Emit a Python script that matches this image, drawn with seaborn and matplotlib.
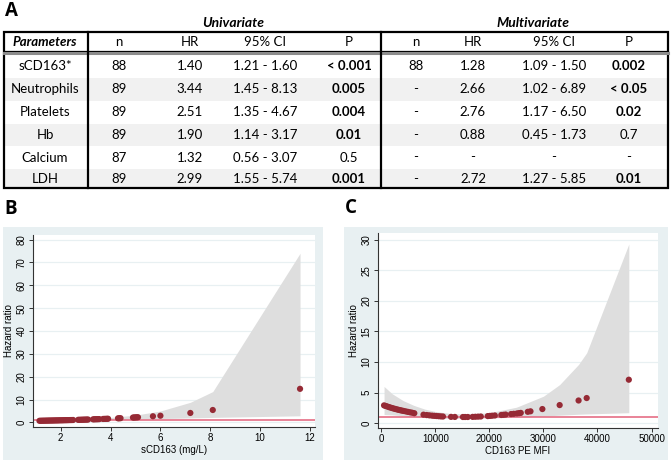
import pandas as pd
import seaborn as sns
import matplotlib.pyplot as plt
from matplotlib.patches import Rectangle

# ---- table data (panel A) ----
params = ["sCD163*", "Neutrophils", "Platelets", "Hb", "Calcium", "LDH"]
uni_n = ["88", "89", "89", "89", "87", "89"]
uni_hr = ["1.40", "3.44", "2.51", "1.90", "1.32", "2.99"]
uni_ci = ["1.21 - 1.60", "1.45 - 8.13", "1.35 - 4.67", "1.14 - 3.17", "0.56 - 3.07", "1.55 - 5.74"]
uni_p = ["< 0.001", "0.005", "0.004", "0.01", "0.5", "0.001"]
uni_p_bold = [True, True, True, True, False, True]
multi_n = ["88", "-", "-", "-", "-", "-"]
multi_hr = ["1.28", "2.66", "2.76", "0.88", "-", "2.72"]
multi_ci = ["1.09 - 1.50", "1.02 - 6.89", "1.17 - 6.50", "0.45 - 1.73", "-", "1.27 - 5.85"]
multi_p = ["0.002", "< 0.05", "0.02", "0.7", "-", "0.01"]
multi_p_bold = [True, True, True, False, False, True]
headers = ["Parameters", "n", "HR", "95% CI", "P", "n", "HR", "95% CI", "P"]

# ---- panel B: sCD163 (mg/L) vs hazard ratio ----
b_x = [1.15, 1.2, 1.25, 1.3, 1.35, 1.4, 1.45, 1.5, 1.55, 1.6, 1.65, 1.7, 1.75, 1.8,
       1.85, 1.9, 1.95, 2.0, 2.05, 2.1, 2.15, 2.2, 2.25, 2.3, 2.35, 2.4, 2.45, 2.5,
       2.7, 2.75, 2.8, 2.85, 2.9, 2.95, 3.0, 3.05, 3.1, 3.3, 3.35, 3.4, 3.45, 3.5,
       3.55, 3.7, 3.75, 3.8, 3.85, 3.9, 4.3, 4.35, 4.4, 4.9, 4.95, 5.0, 5.05, 5.1,
       5.7, 6.0, 7.2, 8.1, 11.6]
b_hr = [0.72, 0.73, 0.74, 0.76, 0.77, 0.78, 0.79, 0.81, 0.82, 0.83, 0.84, 0.85, 0.87, 0.88,
        0.89, 0.90, 0.92, 0.93, 0.94, 0.96, 0.97, 0.98, 1.00, 1.01, 1.03, 1.04, 1.05, 1.07,
        1.13, 1.15, 1.17, 1.18, 1.20, 1.22, 1.24, 1.25, 1.27, 1.35, 1.37, 1.39, 1.41, 1.43,
        1.45, 1.52, 1.54, 1.56, 1.59, 1.61, 1.80, 1.83, 1.86, 2.14, 2.17, 2.20, 2.24, 2.27,
        2.70, 2.94, 4.14, 5.44, 14.7]
b_band_x = [1.15, 2.0, 3.0, 4.0, 5.0, 6.0, 7.2, 8.1, 11.6]
b_upper = [1.0, 1.2, 1.6, 2.2, 3.2, 5.0, 8.8, 13.5, 74.0]
b_lower = [0.5, 0.75, 1.0, 1.25, 1.5, 1.7, 1.95, 2.2, 2.9]

# ---- panel C: CD163 PE MFI vs hazard ratio ----
c_x = [500, 800, 1100, 1400, 1700, 2000, 2300, 2600, 2900, 3200, 3500, 3800, 4100,
       4500, 4900, 5300, 5700, 6100, 7800, 8400, 8900, 9400, 9800, 10200, 10600,
       11000, 11400, 12900, 13600, 15100, 15500, 16000, 16900, 17400, 17900, 18400,
       19700, 20100, 20500, 21000, 22200, 22600, 23000, 24000, 24500, 25100, 25500,
       25800, 27100, 27600, 29800, 33000, 36500, 38000, 45800]
c_hr = [2.90, 2.80, 2.72, 2.62, 2.54, 2.46, 2.38, 2.31, 2.24, 2.17, 2.11, 2.05, 1.99,
        1.92, 1.84, 1.77, 1.70, 1.62, 1.38, 1.32, 1.27, 1.22, 1.19, 1.16, 1.13,
        1.10, 1.08, 1.02, 1.01, 1.00, 1.00, 1.00, 1.02, 1.04, 1.06, 1.08,
        1.15, 1.18, 1.21, 1.25, 1.33, 1.36, 1.40, 1.48, 1.52, 1.58, 1.63,
        1.67, 1.85, 1.93, 2.30, 2.95, 3.70, 4.10, 7.10]
c_band_x = [500, 2000, 4000, 6000, 8000, 10000, 13000, 16000, 20000, 25000, 30000,
            33000, 36500, 38000, 45800]
c_upper = [6.0, 4.8, 3.7, 2.9, 2.3, 1.9, 1.55, 1.5, 1.7, 2.6, 4.4, 6.3, 9.6, 11.5, 29.3]
c_lower = [1.4, 1.35, 1.2, 1.05, 0.9, 0.8, 0.75, 0.75, 0.85, 0.95, 1.15, 1.3, 1.45, 1.5, 1.7]

df_b = pd.DataFrame({"x": b_x, "hr": b_hr})
df_c = pd.DataFrame({"x": c_x, "hr": c_hr})

W, H = 672, 462
tab_font = ["Lato", "DejaVu Sans"]
plot_font = ["Liberation Sans", "DejaVu Sans"]
plt.rcParams["font.family"] = plot_font

fig = plt.figure(figsize=(W / 100, H / 100), dpi=100)
bg = fig.add_axes([0, 0, 1, 1])
bg.set_xlim(0, W)
bg.set_ylim(H, 0)
bg.axis("off")

# panel letters
for lab, x, y in [("A", 5, 11), ("B", 4, 209), ("C", 345, 208)]:
    bg.text(x, y, lab, fontsize=13.5, fontweight="bold", va="center", ha="left",
            family=["Open Sans", "DejaVu Sans"])

# ---- table ----
tfs = 9.5
bg.text(233, 23, "Univariate", fontsize=10, fontweight="bold", style="italic",
        ha="center", va="center", family=tab_font)
bg.text(533, 23, "Multivariate", fontsize=10, fontweight="bold", style="italic",
        ha="center", va="center", family=tab_font)

col_x = [45, 119, 190, 265, 349, 416, 473, 554, 629]
row_y = [66.5, 89, 112, 135, 157.5, 179]
row_edges = [54, 78, 100.5, 123.5, 146, 168.5, 188]

for i in range(len(params)):
    if i % 2 == 1:
        bg.add_patch(Rectangle((4, row_edges[i]), 664, row_edges[i + 1] - row_edges[i],
                               facecolor="#f1f1f1", edgecolor="none", zorder=0))

for j, h in enumerate(headers):
    bold = j == 0
    bg.text(col_x[j], 42, h, fontsize=tfs, ha="center", va="center", family=tab_font,
            fontweight="bold" if bold else "normal", style="italic" if bold else "normal")

for i in range(len(params)):
    cells = [params[i], uni_n[i], uni_hr[i], uni_ci[i], uni_p[i],
             multi_n[i], multi_hr[i], multi_ci[i], multi_p[i]]
    bolds = [False] * 4 + [uni_p_bold[i]] + [False] * 3 + [multi_p_bold[i]]
    for j, c in enumerate(cells):
        bg.text(col_x[j], row_y[i], c, fontsize=tfs, ha="center", va="center",
                family=tab_font, fontweight="bold" if bolds[j] else "normal")

bg.add_patch(Rectangle((4, 32), 664, 156, fill=False, edgecolor="black", lw=1.6, zorder=3))
bg.plot([4, 668], [51, 51], color="black", lw=0.9, zorder=3)
bg.plot([4, 668], [53, 53], color="#8c8c8c", lw=2.2, zorder=3)
for vx in [88, 381]:
    bg.plot([vx, vx], [32, 188], color="black", lw=1.6, zorder=3)

# ---- Stata-like graph backgrounds ----
panel_bg = "#e8f0f2"
bg.add_patch(Rectangle((3, 227), 320, 233, facecolor=panel_bg, edgecolor="none", zorder=0))
bg.add_patch(Rectangle((344, 227), 324, 233, facecolor=panel_bg, edgecolor="none", zorder=0))


def px_axes(left, top, right, bottom):
    return fig.add_axes([left / W, 1 - bottom / H, (right - left) / W, (bottom - top) / H])


def style_axes(ax, xlabel):
    ax.set_facecolor("white")
    for s in ["top", "right"]:
        ax.spines[s].set_visible(False)
    for s in ["left", "bottom"]:
        ax.spines[s].set_color("#333333")
        ax.spines[s].set_linewidth(0.8)
    ax.yaxis.grid(True, color="#e8f0f2", lw=0.9)
    ax.set_axisbelow(True)
    ax.tick_params(axis="both", labelsize=7, length=3, width=0.7, pad=1.5, color="#333333")
    ax.tick_params(axis="y", labelrotation=90)
    for t in ax.get_yticklabels():
        t.set_va("center")
    ax.set_xlabel(xlabel, fontsize=7, labelpad=1)
    ax.set_ylabel("Hazard ratio", fontsize=7, labelpad=2)


dot = "#962a35"
band = "#dedede"
ref = "#e3627a"

# panel B
axb = px_axes(33, 235, 315, 427)
axb.fill_between(b_band_x, b_lower, b_upper, color=band, lw=0, zorder=1)
axb.axhline(1, color=ref, lw=1.1, zorder=2)
sns.scatterplot(data=df_b, x="x", y="hr", ax=axb, color=dot, s=20, edgecolor="none", zorder=3)
axb.set_xlim(0.89, 12.2)
axb.set_ylim(-2, 82)
axb.set_xticks([2, 4, 6, 8, 10, 12])
axb.set_yticks([0, 10, 20, 30, 40, 50, 60, 70, 80])
style_axes(axb, "sCD163 (mg/L)")

# panel C
axc = px_axes(378, 233, 658, 428)
axc.fill_between(c_band_x, c_lower, c_upper, color=band, lw=0, zorder=1)
axc.axhline(1, color=ref, lw=1.1, zorder=2)
sns.scatterplot(data=df_c, x="x", y="hr", ax=axc, color=dot, s=20, edgecolor="none", zorder=3)
axc.set_xlim(-620, 51200)
axc.set_ylim(-0.8, 31.1)
axc.set_xticks([0, 10000, 20000, 30000, 40000, 50000])
axc.set_yticks([0, 5, 10, 15, 20, 25, 30])
style_axes(axc, "CD163 PE MFI")

fig.savefig("out.png", dpi=100)
